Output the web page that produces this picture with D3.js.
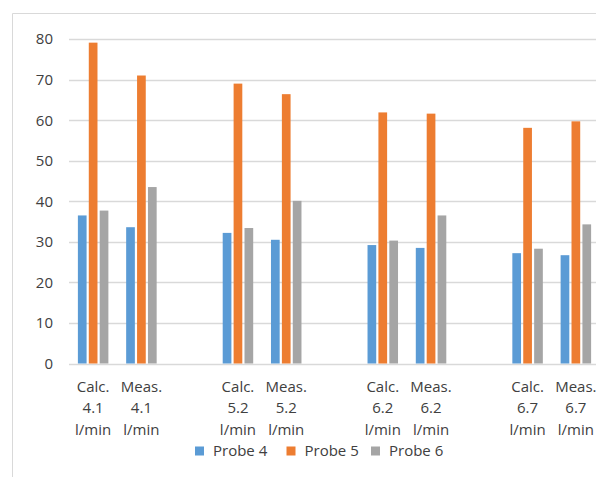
<!DOCTYPE html>
<html><head><meta charset="utf-8">
<script src="https://cdn.jsdelivr.net/npm/d3@7"></script>
<style>body{margin:0;background:#fff;} svg{display:block;}</style>
</head><body>
<svg id="chart" width="596" height="477"></svg>
<script>
const categories = [
  ["Calc.","4.1","l/min"], ["Meas.","4.1","l/min"], null,
  ["Calc.","5.2","l/min"], ["Meas.","5.2","l/min"], null,
  ["Calc.","6.2","l/min"], ["Meas.","6.2","l/min"], null,
  ["Calc.","6.7","l/min"], ["Meas.","6.7","l/min"]
];
const seriesNames = ["Probe 4", "Probe 5", "Probe 6"];
const probe4 = [36.5, 33.6, null, 32.2, 30.5, null, 29.2, 28.5, null, 27.2, 26.7];
const probe5 = [79.1, 71.0, null, 69.0, 66.4, null, 61.9, 61.6, null, 58.1, 59.7];
const probe6 = [37.7, 43.5, null, 33.4, 40.1, null, 30.3, 36.5, null, 28.3, 34.3];
const yTicks = [0, 10, 20, 30, 40, 50, 60, 70, 80];
const colors = ["#5b9bd5", "#ed7d31", "#a5a5a5"];
const series = [probe4, probe5, probe6];

const svg = d3.select("#chart");
const font = "'Open Sans', sans-serif";
const textColor = "#404040";

// frame
svg.append("path").attr("d", "M12.5,477 L12.5,13.5 L596,13.5")
  .attr("fill", "none").attr("stroke", "#d9d9d9").attr("stroke-width", 1);

const x0 = d3.scaleBand().domain(d3.range(categories.length)).range([69, 600]).paddingInner(0).paddingOuter(0);
const y = d3.scaleLinear().domain([0, 80]).range([363.5, 39]);

// gridlines
svg.append("g").selectAll("line").data(yTicks).join("line")
  .attr("x1", 69).attr("x2", 600)
  .attr("y1", d => Math.round(y(d)) + 0.5).attr("y2", d => Math.round(y(d)) + 0.5)
  .attr("stroke", "#d9d9d9").attr("stroke-width", 1.3);

// y tick labels
svg.append("g").selectAll("text").data(yTicks).join("text")
  .attr("x", 53).attr("y", d => y(d)).attr("dy", "0.36em")
  .attr("text-anchor", "end").attr("font-family", font).attr("font-size", 15)
  .attr("fill", textColor).text(d => d);

const barW = 8.7, step = 10.9;
series.forEach((vals, si) => {
  svg.append("g").selectAll("rect")
    .data(vals.map((v, i) => ({v, i})).filter(d => d.v !== null))
    .join("rect")
    .attr("x", d => x0(d.i) + x0.bandwidth() / 2 + (si - 1) * step - barW / 2)
    .attr("width", barW)
    .attr("y", d => y(d.v))
    .attr("height", d => y(0) - y(d.v))
    .attr("fill", colors[si]);
});

// category labels
const lab = svg.append("g");
categories.forEach((c, i) => {
  if (!c) return;
  const t = lab.append("text").attr("font-family", font).attr("font-size", 15)
    .attr("fill", textColor).attr("text-anchor", "middle");
  c.forEach((line, li) => {
    t.append("tspan").attr("x", x0(i) + x0.bandwidth() / 2)
      .attr("y", 392 + li * 21.3).text(line);
  });
});

// legend
const legendX = [195, 286.5, 371];
const lg = svg.append("g");
seriesNames.forEach((n, i) => {
  lg.append("rect").attr("x", legendX[i]).attr("y", 446.5).attr("width", 9).attr("height", 9).attr("fill", colors[i]);
  lg.append("text").attr("x", legendX[i] + 18).attr("y", 451).attr("dy", "0.36em")
    .attr("font-family", font).attr("font-size", 15).attr("fill", textColor).text(n);
});
</script>
</body></html>
